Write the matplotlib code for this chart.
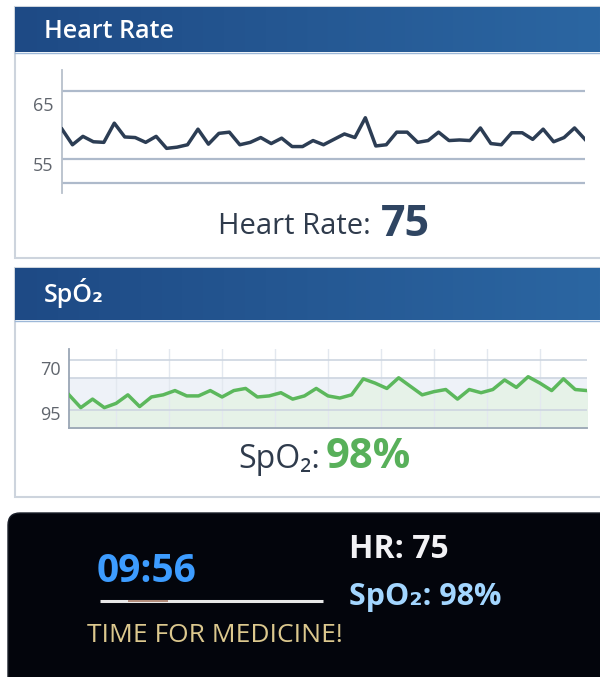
import numpy as np
import matplotlib
matplotlib.use("Agg")
import matplotlib.pyplot as plt
from matplotlib.patches import Rectangle, FancyBboxPatch
from matplotlib.colors import LinearSegmentedColormap

plt.rcParams['font.family'] = ['Open Sans', 'DejaVu Sans']

# heart rate trace (bpm)
hr_values = [60.8, 58.2, 59.6, 58.7, 58.6, 61.8, 59.5, 59.4, 58.6, 59.6,
             57.6, 57.8, 58.2, 60.8, 58.3, 60.1, 60.3, 58.2, 58.6, 59.4,
             58.4, 59.3, 57.9, 57.9, 58.9, 58.2, 59.1, 60.0, 59.4, 62.7,
             58.0, 58.2, 60.3, 60.3, 58.6, 58.9, 60.3, 58.9, 59.0, 58.9,
             61.0, 58.4, 58.2, 60.2, 60.2, 59.1, 60.8, 58.7, 59.4, 61.0,
             59.1]
hr_ticks = [65, 55]
hr_current = 75

# SpO2 trace (%)
spo2_values = [96.7, 95.5, 96.3, 95.5, 95.9, 96.7, 95.6, 96.5, 96.7, 97.1,
               96.6, 96.6, 97.1, 96.5, 97.1, 97.3, 96.5, 96.6, 96.9, 96.3,
               96.6, 97.3, 96.6, 96.4, 96.7, 98.2, 97.8, 97.3, 98.3, 97.5,
               96.7, 97.0, 97.2, 96.3, 97.2, 96.9, 97.2, 98.1, 97.4, 98.4,
               97.8, 97.1, 98.2, 97.2, 97.1]
spo2_tick_pos = [99.2, 95.0]
spo2_tick_labels = ["70", "95"]
spo2_current = 98

clock_text = "09:56"
alert_text = "TIME FOR MEDICINE!"

W, H = 600, 677
fig = plt.figure(figsize=(W / 100, H / 100), dpi=100)
fig.patch.set_facecolor("white")

# background axes in pixel coordinates (y down)
bg = fig.add_axes([0, 0, 1, 1])
bg.set_xlim(0, W)
bg.set_ylim(H, 0)
bg.axis("off")


def px_axes(x0, y0, x1, y1):
    return fig.add_axes([x0 / W, 1 - y1 / H, (x1 - x0) / W, (y1 - y0) / H])


header_cmap = LinearSegmentedColormap.from_list("hdr", ["#1e4a85", "#255893", "#2b66a2"])
grad = np.linspace(0, 1, 256).reshape(1, -1)

# cards
for top, bottom, head_bottom in [(7, 258, 52), (268, 497, 320)]:
    bg.add_patch(Rectangle((15, top), 600, bottom - top, facecolor="white",
                           edgecolor="#cdd4dd", lw=1.5, zorder=1))
    bg.imshow(grad, cmap=header_cmap, aspect="auto",
              extent=(15, 600, head_bottom, top), zorder=2)
    bg.plot([15, 600], [head_bottom + 1, head_bottom + 1], color="#9db8d8", lw=1, zorder=3)

bg.text(44, 31, "Heart Rate", color="white", fontsize=18, fontweight="semibold",
        va="center", ha="left", zorder=4)
bg.text(44, 293, "SpÓ₂", color="white", fontsize=18, fontweight="semibold",
        va="center", ha="left", zorder=4)

# heart rate chart
ax1 = px_axes(62, 70, 585, 193)
ax1.set_facecolor("none")
x_hr = np.arange(len(hr_values))
for yv in [67.09, 55.82, 51.81]:
    ax1.axhline(yv, color="#aebacb", lw=1.6, zorder=1)
ax1.plot(x_hr, hr_values, color="#2c3d54", lw=2.5, zorder=3)
ax1.set_xlim(0, len(hr_values) - 1)
ax1.set_ylim(50.16, 70.66)
ax1.set_xticks([])
ax1.set_yticks(hr_ticks)
ax1.set_yticklabels([str(t) for t in hr_ticks])
ax1.tick_params(axis="y", length=0, pad=6, labelsize=13, labelcolor="#60656d")
for s in ["top", "right", "bottom"]:
    ax1.spines[s].set_visible(False)
ax1.spines["left"].set_color("#b7c0cc")
ax1.spines["left"].set_linewidth(1.3)

bg.text(371, 227, "Heart Rate:", color="#2f3b4c", fontsize=21, fontweight="medium",
        ha="right", va="center", zorder=4)
bg.text(381, 224, str(hr_current), color="#2f4562", fontsize=31, fontweight="bold",
        ha="left", va="center", zorder=4)

# SpO2 chart
ax2 = px_axes(69, 349, 587, 428)
ax2.set_facecolor("none")
x_sp = np.arange(len(spo2_values))
ax2.set_xlim(0, len(spo2_values) - 1)
ax2.set_ylim(93.59, 101)
ax2.axhspan(93.59, 98.28, color="#eef2f8", zorder=0)
ax2.fill_between(x_sp, 93.59, spo2_values, color="#e6f2e8", zorder=1)
ax2.set_xticks(np.arange(4, len(spo2_values) - 1, 4.5))
ax2.grid(axis="x", color="#e3e8ef", lw=1, zorder=1)
for yv in [100.0, 98.28, 95.31]:
    ax2.axhline(yv, color="#cdd5e0", lw=1.2, zorder=2)
ax2.plot(x_sp, spo2_values, color="#5cb85c", lw=2.5, zorder=3)
ax2.set_yticks(spo2_tick_pos)
ax2.set_yticklabels(spo2_tick_labels)
ax2.tick_params(axis="y", length=0, pad=6, labelsize=13, labelcolor="#60656d")
ax2.tick_params(axis="x", length=0, labelbottom=False)
for s in ["top", "right"]:
    ax2.spines[s].set_visible(False)
for s in ["left", "bottom"]:
    ax2.spines[s].set_color("#9aa6b5")
    ax2.spines[s].set_linewidth(1.3)

bg.text(320, 460, "SpO₂:", color="#2f3b4c", fontsize=23, fontweight="medium",
        ha="right", va="center", zorder=4)
bg.text(326, 457, f"{spo2_current}%", color="#58b05a", fontsize=30, fontweight="bold",
        ha="left", va="center", zorder=4)

# dark monitor panel
bg.add_patch(FancyBboxPatch((8, 513), 620, 200, boxstyle="round,pad=0,rounding_size=12",
                            facecolor="#03050c", edgecolor="#1a1f2a", lw=1, zorder=1))
bg.text(97, 572, clock_text, color="#3d9cff", fontsize=28, fontweight="bold",
        ha="left", va="center", zorder=4)
bg.plot([100, 323], [601, 601], color="#e8e8e8", lw=2.2, solid_capstyle="butt", zorder=3)
bg.plot([128, 168], [601, 601], color="#b08a78", lw=1.4, solid_capstyle="butt", zorder=4)
bg.text(87, 635, alert_text, color="#dcc88e", fontsize=19, ha="left", va="center", zorder=4)
bg.text(349, 549, f"HR: {hr_current}", color="#f2f2f5", fontsize=23, fontweight="bold",
        ha="left", va="center", zorder=4)
bg.text(349, 597, f"SpO₂: {spo2_current}%", color="#a3d6ff", fontsize=22, fontweight="bold",
        ha="left", va="center", zorder=4)

fig.savefig("out.png", dpi=100, facecolor="white")
